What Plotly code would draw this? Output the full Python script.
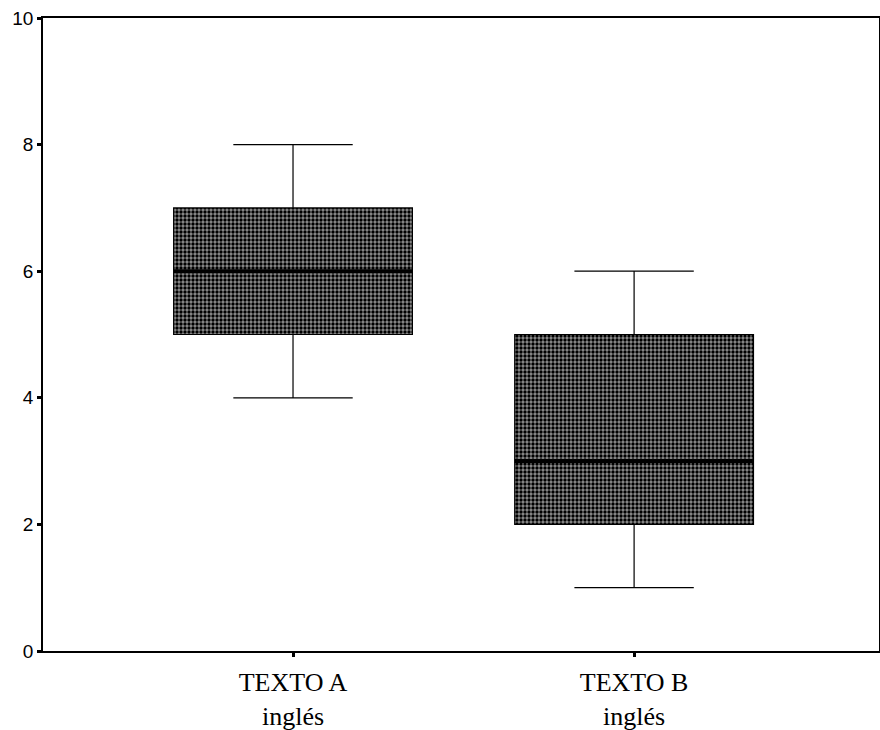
import plotly.graph_objects as go

# Box summary statistics per text
groups = ["TEXTO A<br>inglés", "TEXTO B<br>inglés"]
positions = [0, 1]
lower = [4, 1]
q1 = [5, 2]
median = [6, 3]
q3 = [7, 5]
upper = [8, 6]
y_ticks = [0, 2, 4, 6, 8, 10]

box_width = 0.70

fig = go.Figure()

# Dotted fill drawn as bars spanning the interquartile range
fig.add_trace(go.Bar(
    x=positions,
    base=q1,
    y=[b - a for a, b in zip(q1, q3)],
    width=box_width,
    marker=dict(
        color="white",
        line=dict(width=0),
        pattern=dict(shape=".", fgcolor="black", bgcolor="#909090",
                     size=4, solidity=0.55, fillmode="replace"),
    ),
    hoverinfo="skip",
    showlegend=False,
))

fig.add_trace(go.Box(
    x=positions,
    q1=q1, median=median, q3=q3,
    lowerfence=lower, upperfence=upper,
    width=box_width,
    whiskerwidth=0.5,
    fillcolor="rgba(0,0,0,0)",
    line=dict(color="black", width=1.2),
    showlegend=False,
))

# Heavy median bars
for x, m in zip(positions, median):
    fig.add_trace(go.Scatter(
        x=[x - box_width / 2, x + box_width / 2], y=[m, m],
        mode="lines", line=dict(color="black", width=4),
        hoverinfo="skip", showlegend=False,
    ))

fig.update_layout(
    width=880, height=730,
    margin=dict(l=43, r=1, t=18, b=79),
    paper_bgcolor="white", plot_bgcolor="white",
    barmode="overlay",
)
fig.update_xaxes(
    range=[-0.733, 1.718],
    tickvals=positions, ticktext=groups,
    ticks="outside", ticklen=4, tickwidth=3, tickcolor="black",
    tickfont=dict(family="Liberation Serif, Times New Roman, serif", size=26, color="black"),
    ticklabelstandoff=3,
    automargin=False,
    showline=True, linecolor="black", linewidth=1.5, mirror=True,
    showgrid=False, zeroline=False,
)
fig.update_yaxes(
    range=[0, 10],
    tickvals=y_ticks,
    ticks="outside", ticklen=4, tickwidth=3, tickcolor="black",
    tickfont=dict(family="Liberation Sans, Arial, sans-serif", size=19, color="black"),
    automargin=False,
    showline=True, linecolor="black", linewidth=1.5, mirror=True,
    showgrid=False, zeroline=False,
)

fig.write_html("out.html")
